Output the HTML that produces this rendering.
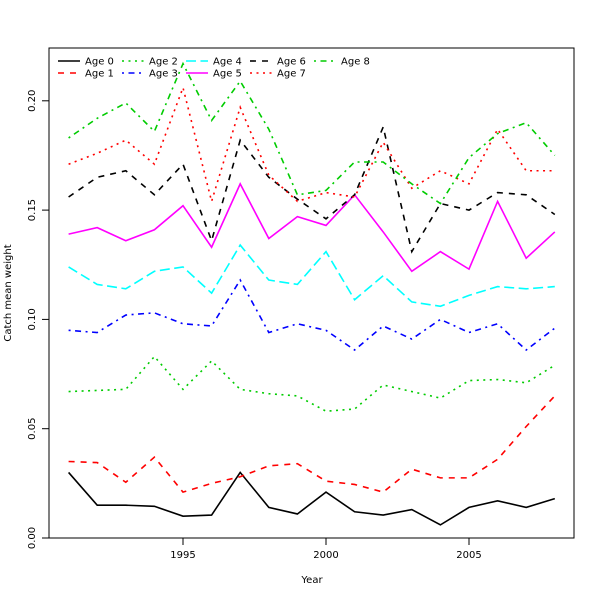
<!DOCTYPE html>
<html><head><meta charset="utf-8">
<style>
body{margin:0;background:#fff;}
svg text{font-family:"DejaVu Sans","Liberation Sans",sans-serif;font-size:10px;fill:#000;}
</style></head>
<body>
<svg id="chart" width="600" height="600" xmlns="http://www.w3.org/2000/svg">
<rect width="600" height="600" fill="#fff"/>
<g id="plot"></g>
</svg>
<script>
const years=[1991,1992,1993,1994,1995,1996,1997,1998,1999,2000,2001,2002,2003,2004,2005,2006,2007,2008];
const age0=[0.030,0.015,0.015,0.0145,0.010,0.0105,0.030,0.014,0.011,0.021,0.012,0.0105,0.013,0.006,0.014,0.017,0.014,0.018];
const age1=[0.035,0.0345,0.0255,0.037,0.021,0.025,0.028,0.033,0.034,0.026,0.0245,0.021,0.0315,0.0275,0.0275,0.036,0.051,0.065];
const age2=[0.067,0.0675,0.068,0.083,0.068,0.081,0.068,0.066,0.065,0.058,0.059,0.070,0.067,0.064,0.072,0.0725,0.071,0.079];
const age3=[0.095,0.094,0.102,0.103,0.098,0.097,0.118,0.094,0.098,0.095,0.086,0.097,0.091,0.100,0.094,0.098,0.086,0.096];
const age4=[0.124,0.116,0.114,0.122,0.124,0.112,0.134,0.118,0.116,0.131,0.109,0.120,0.108,0.106,0.111,0.115,0.114,0.115];
const age5=[0.139,0.142,0.136,0.141,0.152,0.133,0.162,0.137,0.147,0.143,0.157,0.140,0.122,0.131,0.123,0.154,0.128,0.140];
const age6=[0.156,0.165,0.168,0.157,0.171,0.136,0.182,0.165,0.155,0.146,0.157,0.188,0.131,0.153,0.150,0.158,0.157,0.148];
const age7=[0.171,0.176,0.182,0.171,0.206,0.154,0.197,0.166,0.154,0.158,0.156,0.181,0.160,0.168,0.162,0.187,0.168,0.168];
const age8=[0.183,0.192,0.199,0.186,0.217,0.191,0.209,0.187,0.157,0.159,0.172,0.172,0.162,0.153,0.174,0.185,0.190,0.175];
const seriesNames=["Age 0","Age 1","Age 2","Age 3","Age 4","Age 5","Age 6","Age 7","Age 8"];
const xTicks=[1995,2000,2005];
const yTicks=[0,0.05,0.10,0.15,0.20];
const yTickLabels=["0.00","0.05","0.10","0.15","0.20"];

const series=[age0,age1,age2,age3,age4,age5,age6,age7,age8];
const colors=["#000","#f00","#0c0","#00f","#0ff","#f0f","#000","#f00","#0c0"];
const dashes=["","6,6","2,4.5","2,4.5,6,4.5","10,4.5","","6,6","2,4.5","2,4.5,6,4.5"];
const X=v=>183+(v-1995)*28.6;
const Y=v=>538-v*2186;
const NS="http://www.w3.org/2000/svg";
const g=document.getElementById("plot");
function mk(t,a){const e=document.createElementNS(NS,t);for(const k in a)e.setAttribute(k,a[k]);g.appendChild(e);return e;}

const box=mk("rect",{x:49,y:48,width:525,height:490,fill:"none",stroke:"#000","stroke-width":1});



xTicks.forEach(t=>{
  const l=mk("line",{x1:X(t),x2:X(t),y1:538,y2:545,stroke:"#000"});
  
  
  const tx=mk("text",{x:X(t),y:558,"text-anchor":"middle"});tx.textContent=t;
  
  
});
yTicks.forEach((t,i)=>{
  const l=mk("line",{x1:42,x2:49,y1:Y(t),y2:Y(t),stroke:"#000"});
  
  
  const tx=mk("text",{x:0,y:0,"text-anchor":"middle",transform:`translate(35,${Y(t)}) rotate(-90)`});tx.textContent=yTickLabels[i];
  
  
});
const xt=mk("text",{x:312,y:583,"text-anchor":"middle"});xt.textContent="Year";


const yt=mk("text",{x:0,y:0,"text-anchor":"middle",transform:"translate(11,293) rotate(-90)"});yt.textContent="Catch mean weight";



series.forEach((s,i)=>{
  const p=mk("polyline",{points:s.map((v,j)=>X(years[j])+","+Y(v)).join(" "),fill:"none",stroke:colors[i],"stroke-width":1.6,"stroke-dasharray":dashes[i]});
  
  
});

seriesNames.forEach((n,i)=>{
  const col=Math.floor(i/2), row=i%2;
  const x0=58+col*64, yy=61+row*12;
  const l=mk("line",{x1:x0,x2:x0+22,y1:yy,y2:yy,stroke:colors[i],"stroke-width":1.6,"stroke-dasharray":dashes[i]});
  
  
  const t=mk("text",{x:x0+27,y:yy+3.5});t.textContent=n;
  
  
});
</script>
</body></html>
